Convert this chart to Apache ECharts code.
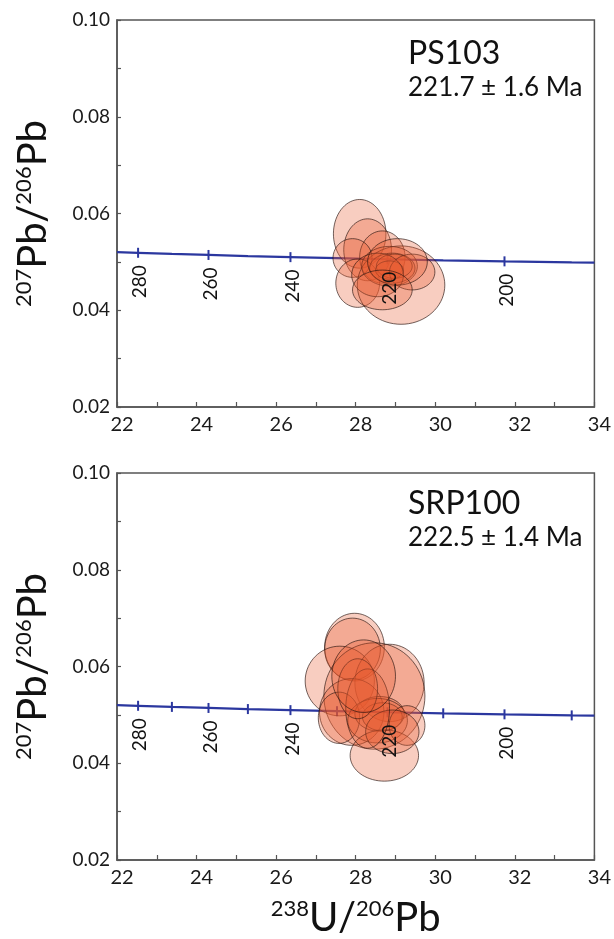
<!DOCTYPE html>
<html><head><meta charset="utf-8">
<script src="https://cdn.jsdelivr.net/npm/echarts@6/dist/echarts.min.js"></script>
<style>html,body{margin:0;padding:0;background:#fff}#c{width:614px;height:939px}</style>
</head><body><div id="c"></div>
<script>
// Concordia (Tera-Wasserburg) tick points
const concAge = [280, 270, 260, 250, 240, 230, 220, 210, 200, 190];
const concX   = [22.53, 23.38, 24.30, 25.29, 26.36, 27.53, 28.80, 30.20, 31.74, 33.43];
const concY   = [0.05188, 0.05165, 0.05143, 0.05120, 0.05098, 0.05076, 0.05054, 0.05032, 0.05011, 0.04989];
const concStart = [22, 0.05203];
const concEnd   = [34, 0.04983];
const ps103TickAges  = [280, 260, 240, 220, 200];
const srp100TickAges = [280, 270, 260, 250, 240, 230, 220, 210, 200, 190];
const labelAges = [280, 260, 240, 220, 200];

// PS103 error ellipses: centre x, centre y, semi-axis x, semi-axis y
const ps103Cx = [28.10, 28.30, 28.67, 27.92, 28.05, 29.14, 28.85, 28.92, 28.97, 28.85, 29.42, 28.55, 29.05, 28.67];
const ps103Cy = [0.0558, 0.0525, 0.0510, 0.0508, 0.0456, 0.0452, 0.0491, 0.0487, 0.0491, 0.0483, 0.0479, 0.0473, 0.0500, 0.0442];
const ps103Rx = [0.66, 0.60, 0.57, 0.49, 0.55, 1.10, 0.70, 0.57, 0.45, 0.35, 0.57, 0.65, 0.75, 0.75];
const ps103Ry = [0.0071, 0.0064, 0.0054, 0.0040, 0.0050, 0.0081, 0.0041, 0.0031, 0.0025, 0.0019, 0.0037, 0.0045, 0.0048, 0.0041];

// SRP100 error ellipses
const srpCx = [27.97, 27.92, 27.60, 28.85, 28.47, 27.90, 27.58, 28.60, 28.67, 28.55, 28.72, 29.29, 28.92, 28.30, 28.05, 28.20];
const srpCy = [0.0640, 0.0636, 0.0570, 0.0566, 0.0539, 0.0506, 0.0494, 0.0502, 0.0496, 0.0488, 0.0416, 0.0478, 0.0465, 0.0513, 0.0554, 0.0580];
const srpRx = [0.75, 0.70, 0.87, 0.87, 1.27, 0.81, 0.52, 0.62, 0.50, 0.75, 0.86, 0.45, 0.67, 0.55, 0.50, 0.80];
const srpRy = [0.0070, 0.0064, 0.0072, 0.0080, 0.0110, 0.0069, 0.0053, 0.0036, 0.0029, 0.0046, 0.0053, 0.0041, 0.0045, 0.0082, 0.0062, 0.0075];

const samples = [
  {name: 'PS103', age: '221.7 ± 1.6 Ma', cx: ps103Cx, cy: ps103Cy, rx: ps103Rx, ry: ps103Ry, ticks: ps103TickAges},
  {name: 'SRP100', age: '222.5 ± 1.4 Ma', cx: srpCx, cy: srpCy, rx: srpRx, ry: srpRy, ticks: srp100TickAges}
];

const FONT = 'Lato';
const frame = '#555';
const blue = '#2b379f';
const grids = [
  {left: 117, top: 20, width: 482, height: 387, show: true, borderColor: frame, borderWidth: 1.5, backgroundColor: 'transparent'},
  {left: 117, top: 473, width: 482, height: 389, show: true, borderColor: frame, borderWidth: 1.5, backgroundColor: 'transparent'}
];

const titleRich = {
  sup: {fontSize: 22, fontFamily: FONT, color: '#111', verticalAlign: 'top', lineHeight: 40, padding: [0,0,12,0]},
  big: {fontSize: 40, fontFamily: FONT, color: '#111', verticalAlign: 'bottom', lineHeight: 40}
};

const xAxes = [], yAxes = [], series = [];
samples.forEach((s, i) => {
  xAxes.push({
    gridIndex: i, type: 'value', min: 22, max: 34, interval: 2,
    axisLine: {show: true, lineStyle: {color: frame, width: 1.5}},
    axisTick: {show: true, inside: true, length: 5, lineStyle: {color: frame, width: 1.2}},
    minorTick: {show: true, splitNumber: 2, length: 5, lineStyle: {color: frame, width: 1.2}},
    splitLine: {show: false},
    axisLabel: {fontFamily: FONT, fontSize: 20, color: '#1a1a1a', margin: 8, padding: [0, 0, 0, 10]},
    name: i === 1 ? '{sup|238}{big|U/}{sup|206}{big|Pb}' : '',
    nameLocation: 'middle', nameGap: 38,
    nameTextStyle: {rich: titleRich}
  });
  yAxes.push({
    gridIndex: i, type: 'value', min: 0.02, max: 0.10, interval: 0.02,
    axisLine: {show: true, lineStyle: {color: frame, width: 1.5}},
    axisTick: {show: true, inside: true, length: 4, lineStyle: {color: frame, width: 1.2}},
    minorTick: {show: true, splitNumber: 2, length: 4, lineStyle: {color: frame, width: 1.2}},
    splitLine: {show: false},
    axisLabel: {fontFamily: FONT, fontSize: 19, color: '#1a1a1a', margin: 7, formatter: v => v.toFixed(2)},
    name: '{sup|207}{big|Pb/}{sup|206}{big|Pb}',
    nameLocation: 'middle', nameRotate: 90, nameGap: 64,
    nameTextStyle: {rich: titleRich}
  });

  // concordia curve
  const lineData = [concStart];
  concX.forEach((x, k) => lineData.push([x, concY[k]]));
  lineData.push(concEnd);
  series.push({
    type: 'line', xAxisIndex: i, yAxisIndex: i, data: lineData, symbol: 'none',
    lineStyle: {color: blue, width: 2.2}, z: 1, silent: true
  });
  // tick marks on concordia
  const tickData = s.ticks.map(a => { const k = concAge.indexOf(a); return [concX[k], concY[k]]; });
  series.push({
    type: 'custom', xAxisIndex: i, yAxisIndex: i, data: tickData, z: 2, silent: true,
    renderItem: (params, api) => {
      const p = api.coord([api.value(0), api.value(1)]);
      return {type: 'line', shape: {x1: p[0], y1: p[1] - 5, x2: p[0], y2: p[1] + 5},
              style: {stroke: blue, lineWidth: 2}};
    }
  });
  // ellipses
  const ell = s.cx.map((x, k) => [x, s.cy[k], s.rx[k], s.ry[k]]);
  series.push({
    type: 'custom', xAxisIndex: i, yAxisIndex: i, data: ell, z: 3, silent: true,
    renderItem: (params, api) => {
      const c = api.coord([api.value(0), api.value(1)]);
      const sz = api.size([api.value(2), api.value(3)]);
      const pts = [];
      for (let t = 0; t < 72; t++) {
        const a = t / 72 * Math.PI * 2;
        pts.push([c[0] + sz[0] * Math.cos(a), c[1] + sz[1] * Math.sin(a)]);
      }
      return {type: 'polygon', shape: {points: pts},
              style: {fill: 'rgba(232, 88, 48, 0.3)', stroke: 'rgba(40,20,15,0.65)', lineWidth: 1}};
    }
  });
  // age labels on concordia
  const labData = labelAges.map(a => { const k = concAge.indexOf(a); return [concX[k], concY[k], a]; });
  series.push({
    type: 'custom', xAxisIndex: i, yAxisIndex: i, data: labData, z: 5, silent: true,
    renderItem: (params, api) => {
      const p = api.coord([api.value(0), api.value(1)]);
      return {type: 'text', x: p[0] + 2, y: p[1] + 29, rotation: Math.PI / 2,
              style: {text: String(api.value(2)), fontFamily: FONT, fontSize: 19, fill: '#111',
                      align: 'center', verticalAlign: 'middle'}};
    }
  });
});

const chart = echarts.init(document.getElementById('c'), null, {renderer: 'canvas'});
chart.setOption({
  animation: false,
  backgroundColor: '#fff',
  grid: grids,
  xAxis: xAxes,
  yAxis: yAxes,
  series: series,
  graphic: [
    {type: 'text', left: 408, top: 38, style: {text: 'PS103', fontFamily: FONT, fontSize: 32, fill: '#111'}},
    {type: 'text', left: 408, top: 75, style: {text: '221.7 ± 1.6 Ma', fontFamily: FONT, fontSize: 26, fill: '#111'}},
    {type: 'text', left: 408, top: 488, style: {text: 'SRP100', fontFamily: FONT, fontSize: 32, fill: '#111'}},
    {type: 'text', left: 408, top: 525, style: {text: '222.5 ± 1.4 Ma', fontFamily: FONT, fontSize: 26, fill: '#111'}}
  ]
});
</script>
</body></html>
